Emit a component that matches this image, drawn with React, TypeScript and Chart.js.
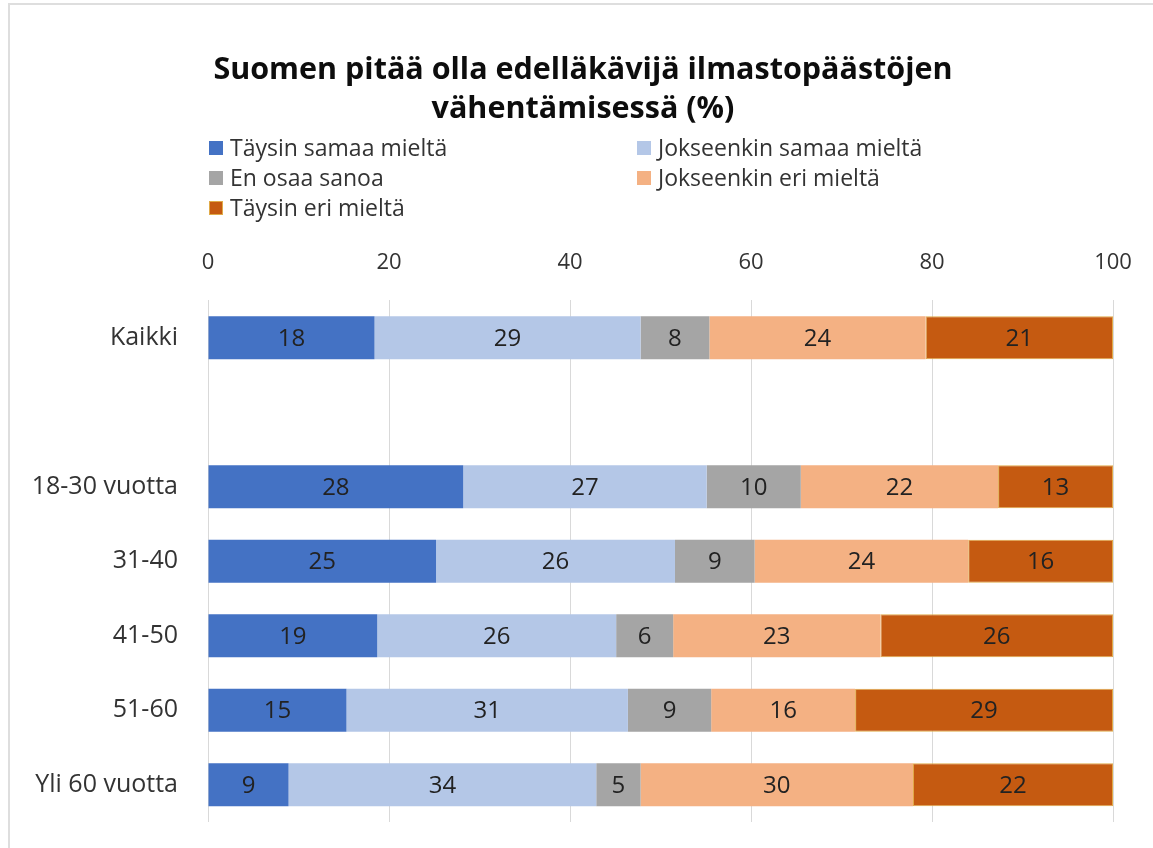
import React, { useEffect, useRef } from "react";
import { Chart, registerables } from "chart.js";

Chart.register(...registerables);

const titleLines = ["Suomen pitää olla edelläkävijä ilmastopäästöjen", "vähentämisessä (%)"];
const categories = ["Kaikki", "", "18-30 vuotta", "31-40", "41-50", "51-60", "Yli 60 vuotta"];
const seriesNames = [
  "Täysin samaa mieltä",
  "Jokseenkin samaa mieltä",
  "En osaa sanoa",
  "Jokseenkin eri mieltä",
  "Täysin eri mieltä",
];
const taysinSamaa = [18.4, null, 28.2, 25.2, 18.7, 15.3, 8.9];
const jokseenkinSamaa = [29.4, null, 26.9, 26.4, 26.4, 31.1, 34.0];
const enOsaa = [7.6, null, 10.4, 8.8, 6.3, 9.2, 4.9];
const jokseenkinEri = [23.9, null, 21.8, 23.6, 22.9, 15.9, 30.1];
const taysinEri = [20.7, null, 12.7, 16.0, 25.7, 28.5, 22.1];
const seriesValues = [taysinSamaa, jokseenkinSamaa, enOsaa, jokseenkinEri, taysinEri];
const seriesColors = ["#4472C4", "#B4C7E7", "#A5A5A5", "#F4B183", "#C55A11"];
const xTickValues = [0, 20, 40, 60, 80, 100];

const FONT = "'Open Sans', sans-serif";
const TEXT = "#333333";

const titleBlock = {
  id: "titleBlock",
  afterDraw(chart: any) {
    const ctx = chart.ctx;
    ctx.save();
    ctx.font = `bold 30.5px ${FONT}`;
    ctx.fillStyle = "#0d0d0d";
    ctx.textAlign = "center";
    ctx.textBaseline = "middle";
    titleLines.forEach((line, i) => {
      ctx.fillText(line, 583, 70.5 + i * 39);
    });
    ctx.restore();
  },
};

const valueLabels = {
  id: "valueLabels",
  afterDatasetsDraw(chart: any) {
    const ctx = chart.ctx;
    ctx.save();
    ctx.font = `24px ${FONT}`;
    ctx.fillStyle = "#222222";
    ctx.textAlign = "center";
    ctx.textBaseline = "middle";
    chart.data.datasets.forEach((ds: any, di: number) => {
      const meta = chart.getDatasetMeta(di);
      meta.data.forEach((el: any, i: number) => {
        const v = ds.data[i];
        if (v === null || v === undefined) return;
        const cx = (el.x + el.base) / 2;
        ctx.fillText(String(Math.round(v)), cx, el.y + 1);
      });
    });
    ctx.restore();
  },
};

const gridLegend = {
  id: "gridLegend",
  afterDraw(chart: any) {
    const ctx = chart.ctx;
    const colX = [209, 637];
    const rowY0 = 148;
    const rowStep = 30;
    const box = 14;
    ctx.save();
    ctx.font = `23px ${FONT}`;
    ctx.textAlign = "left";
    ctx.textBaseline = "middle";
    chart.data.datasets.forEach((ds: any, i: number) => {
      const x = colX[i % 2];
      const y = rowY0 + Math.floor(i / 2) * rowStep;
      ctx.fillStyle = ds.backgroundColor;
      ctx.fillRect(x, y - box / 2, box, box);
      if (ds.borderWidth) {
        ctx.strokeStyle = ds.borderColor;
        ctx.lineWidth = 1;
        ctx.strokeRect(x + 0.5, y - box / 2 + 0.5, box - 1, box - 1);
      }
      ctx.fillStyle = TEXT;
      ctx.fillText(ds.label, x + 21, y + 1);
    });
    ctx.restore();
  },
};

export default function App() {
  const ref = useRef<HTMLCanvasElement>(null);

  useEffect(() => {
    if (!ref.current) return;
    const chart = new Chart(ref.current, {
      type: "bar",
      data: {
        labels: categories,
        datasets: seriesNames.map((name, i) => ({
          label: name,
          data: seriesValues[i],
          backgroundColor: seriesColors[i],
          borderColor: i === 4 ? "#E0AA48" : seriesColors[i],
          borderWidth: i === 4 ? 1 : 0,
          borderSkipped: false,
          categoryPercentage: 1,
          barPercentage: 0.577,
        })),
      },
      options: {
        animation: false,
        responsive: false,
        indexAxis: "y",
        devicePixelRatio: 1,
        layout: { padding: { left: 0, right: 40, top: 249, bottom: 26 } },
        plugins: {
          legend: { display: false },
          tooltip: { enabled: false },
          title: { display: false },
        },
        scales: {
          x: {
            type: "linear",
            position: "top",
            stacked: true,
            min: 0,
            max: 100,
            afterBuildTicks: (scale: any) => {
              scale.ticks = xTickValues.map((v) => ({ value: v }));
            },
            ticks: {
              padding: 24,
              color: TEXT,
              font: { family: FONT, size: 22 },
            },
            grid: { color: "#d9d9d9", lineWidth: 1, drawTicks: false },
            border: { display: false },
            afterFit: (scale: any) => {
              scale.height = 51.4;
              scale.paddingLeft = 0;
              scale.paddingRight = 0;
            },
          },
          y: {
            stacked: true,
            grid: { display: false, drawTicks: false },
            border: { display: false },
            ticks: {
              padding: 30,
              color: TEXT,
              font: { family: FONT, size: 25 },
            },
            afterFit: (scale: any) => {
              scale.width = 208;
              scale.paddingTop = 0;
              scale.paddingBottom = 0;
            },
          },
        },
      },
      plugins: [valueLabels, gridLegend, titleBlock],
    });
    return () => chart.destroy();
  }, []);

  return (
    <>
      <div
        style={{
          position: "absolute",
          left: 8,
          top: 3,
          width: 1145,
          height: 845,
          boxSizing: "border-box",
          borderLeft: "2px solid #dedede",
          borderTop: "2px solid #dedede",
        }}
      />
      <canvas
        ref={ref}
        width={1153}
        height={848}
        style={{ position: "absolute", left: 0, top: 0, width: 1153, height: 848 }}
      />
    </>
  );
}
